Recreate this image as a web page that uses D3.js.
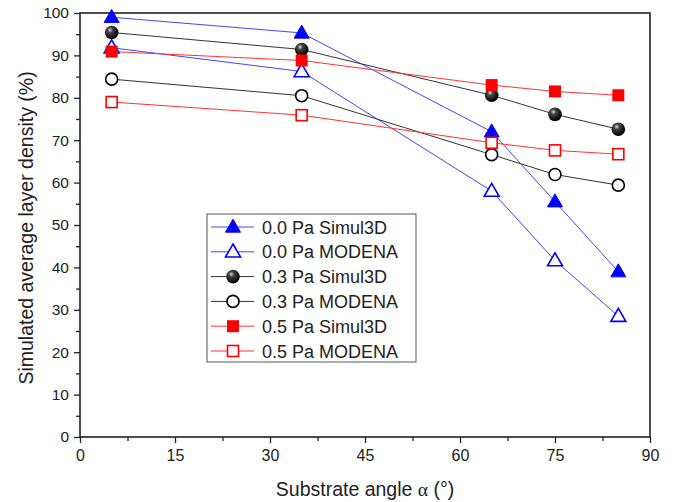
<!DOCTYPE html>
<html><head><meta charset="utf-8">
<script src="https://cdn.jsdelivr.net/npm/d3@7"></script>
<style>body{margin:0;background:#fff}svg{display:block}text{font-family:Arial,"Liberation Sans",sans-serif;fill:#222}</style>
</head><body><svg id="c" width="676" height="502"></svg>
<script>
const angles = [5, 35, 65, 75, 85];
const s00Sim = [99, 95.3, 72, 55.5, 39];
const s00Mod = [91.8, 86.2, 58, 41.6, 28.5];
const s03Sim = [95.4, 91.4, 80.6, 76.1, 72.6];
const s03Mod = [84.4, 80.5, 66.6, 61.9, 59.4];
const s05Sim = [90.9, 88.8, 83, 81.5, 80.6];
const s05Mod = [79, 75.9, 69.4, 67.6, 66.7];
const seriesNames = ["0.0 Pa Simul3D","0.0 Pa MODENA","0.3 Pa Simul3D","0.3 Pa MODENA","0.5 Pa Simul3D","0.5 Pa MODENA"];
const xTicks = [0,15,30,45,60,75,90];
const yTicks = [0,10,20,30,40,50,60,70,80,90,100];

const series = [
  {name: seriesNames[0], vals: s00Sim, color: "#0000ff", shape: "tri", fill: true},
  {name: seriesNames[1], vals: s00Mod, color: "#0000ff", shape: "tri", fill: false},
  {name: seriesNames[2], vals: s03Sim, color: "#000000", shape: "sphere", fill: true},
  {name: seriesNames[3], vals: s03Mod, color: "#000000", shape: "circle", fill: false},
  {name: seriesNames[4], vals: s05Sim, color: "#ff0000", shape: "square", fill: true},
  {name: seriesNames[5], vals: s05Mod, color: "#ff0000", shape: "square", fill: false}
];

const svg = d3.select("#c");
const L = 80, R = 650, T = 13, B = 437;
const x = d3.scaleLinear().domain([0,90]).range([L,R]);
const y = d3.scaleLinear().domain([0,100]).range([B,T]);

const defs = svg.append("defs");
const g = defs.append("radialGradient").attr("id","sph").attr("cx","0.38").attr("cy","0.32").attr("r","0.65");
g.append("stop").attr("offset","0").attr("stop-color","#d8d8d8");
g.append("stop").attr("offset","0.3").attr("stop-color","#444");
g.append("stop").attr("offset","1").attr("stop-color","#000");

// axes
const xAxis = d3.axisBottom(x).tickValues(xTicks).tickSize(6).tickPadding(7);
const xMinor = d3.axisBottom(x).tickValues(d3.range(7.5,90,15)).tickSize(4).tickFormat("");
const yAxis = d3.axisLeft(y).tickValues(yTicks).tickSize(6).tickPadding(5);
const yMinor = d3.axisLeft(y).tickValues(d3.range(5,100,10)).tickSize(4).tickFormat("");

function style(sel, fs){
  sel.select(".domain").remove();
  sel.selectAll("line").attr("stroke","#222").attr("stroke-width",1.3);
  sel.selectAll("text").style("font-size", fs + "px").attr("fill","#222");
}
svg.append("g").attr("transform",`translate(0,${B})`).call(xAxis).call(style, 16);
svg.append("g").attr("transform",`translate(0,${B})`).call(xMinor).call(style, 16);
svg.append("g").attr("transform",`translate(${L},0)`).call(yAxis).call(style, 15.5);
svg.append("g").attr("transform",`translate(${L},0)`).call(yMinor).call(style, 15.5);

svg.append("rect").attr("x",L).attr("y",T).attr("width",R-L).attr("height",B-T)
  .attr("fill","none").attr("stroke","#222").attr("stroke-width",1.6);

// marker drawing
function marker(sel, s, cx, cy){
  const sw = 1.6;
  if (s.shape === "tri") {
    const h = 13, w = 15;
    sel.append("path").attr("d",`M${cx},${cy-h*0.6}L${cx+w/2},${cy+h*0.4}L${cx-w/2},${cy+h*0.4}Z`)
      .attr("fill", s.fill ? s.color : "#fff").attr("stroke", s.color).attr("stroke-width", s.fill?1:sw);
  } else if (s.shape === "sphere") {
    sel.append("circle").attr("cx",cx).attr("cy",cy).attr("r",6.8).attr("fill","url(#sph)");
  } else if (s.shape === "circle") {
    sel.append("circle").attr("cx",cx).attr("cy",cy).attr("r",6).attr("fill","#fff").attr("stroke","#000").attr("stroke-width",sw);
  } else {
    const a = s.fill ? 12 : 11;
    sel.append("rect").attr("x",cx-a/2).attr("y",cy-a/2).attr("width",a).attr("height",a)
      .attr("fill", s.fill ? s.color : "#fff").attr("stroke", s.color).attr("stroke-width", s.fill?0:sw);
  }
}

const line = d3.line().x((d,i)=>x(angles[i])).y(d=>y(d));
const lineColor = {"#0000ff":"#4444ff","#000000":"#333","#ff0000":"#ff3333"};
series.forEach(s=>{
  svg.append("path").attr("d", line(s.vals)).attr("fill","none")
    .attr("stroke", lineColor[s.color]).attr("stroke-width",1);
});
series.forEach(s=>{
  const gg = svg.append("g");
  s.vals.forEach((v,i)=>marker(gg, s, x(angles[i]), y(v)));
});

// legend
const lg = svg.append("g");
lg.append("rect").attr("x",207).attr("y",214).attr("width",209).attr("height",148)
  .attr("fill","#fff").attr("stroke","#555").attr("stroke-width",1);
series.forEach((s,i)=>{
  const cy = 227 + i*24.8;
  lg.append("line").attr("x1",211).attr("x2",254).attr("y1",cy).attr("y2",cy)
    .attr("stroke", lineColor[s.color]).attr("stroke-width",1);
  marker(lg, s, 233, cy);
  lg.append("text").attr("x",262).attr("y",cy+6.5).style("font-size","18px").text(s.name);
});

// titles
svg.append("text").attr("transform",`translate(33,${(T+B)/2+3}) rotate(-90)`)
  .attr("text-anchor","middle").style("font-size","19.5px").text("Simulated average layer density (%)");
const xt = svg.append("text").attr("x",365).attr("y",496).attr("text-anchor","middle").style("font-size","19.5px");
xt.append("tspan").text("Substrate angle ");
xt.append("tspan").style("font-family","'Liberation Serif','DejaVu Serif',serif").text("α");
xt.append("tspan").text(" (°)");
</script></body></html>
